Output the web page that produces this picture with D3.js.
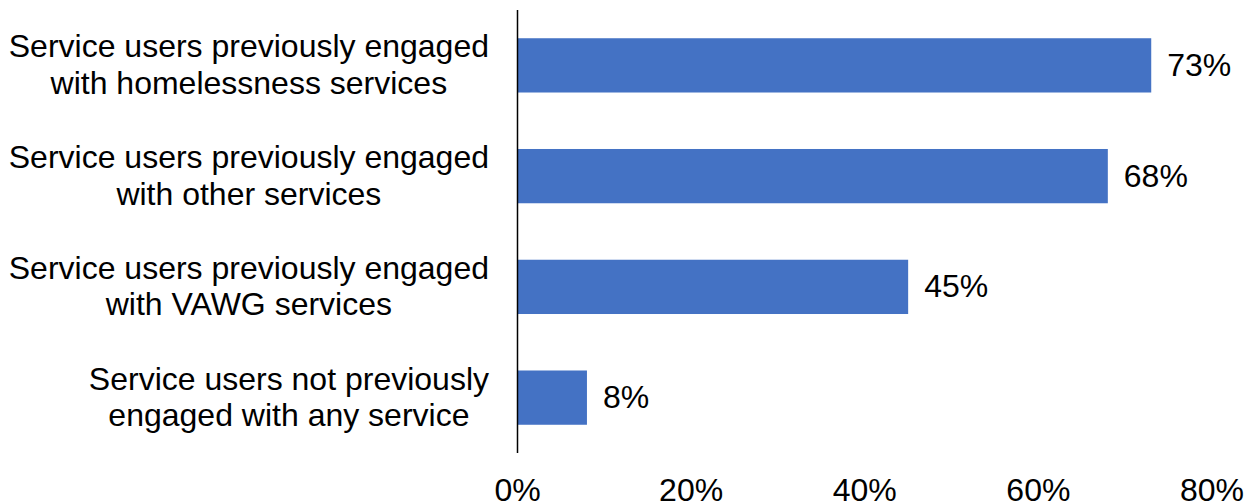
<!DOCTYPE html>
<html>
<head>
<meta charset="utf-8">
<script src="https://cdn.jsdelivr.net/npm/d3@7"></script>
<style>
  body { margin: 0; background: #fff; }
  text { font-family: "Liberation Sans", Arial, sans-serif; fill: #000; }
</style>
</head>
<body>
<svg id="chart" width="1255" height="504"></svg>
<script>
// Data
const categories = [
  ["Service users previously engaged", "with homelessness services"],
  ["Service users previously engaged", "with other services"],
  ["Service users previously engaged", "with VAWG services"],
  ["Service users not previously", "engaged with any service"]
];
const values = [73, 68, 45, 8];
const xTicks = [0, 20, 40, 60, 80];

const width = 1255, height = 504;
const plotTop = 10, plotBottom = 453;
const plotLeft = 517.5, plotRight = 1212;
const fontSize = 32;

const svg = d3.select("#chart");

const keys = categories.map((d, i) => i);

const xScale = d3.scaleLinear()
                 .domain([0, 80])
                 .range([plotLeft, plotRight]);

const yScale = d3.scaleBand()
                 .domain(keys)
                 .range([plotTop, plotBottom])
                 .paddingInner(0.51)
                 .paddingOuter(0.255);

// Bars
svg.append("g")
   .selectAll("rect")
   .data(values)
   .join("rect")
   .attr("x", xScale(0))
   .attr("y", (d, i) => yScale(i))
   .attr("width", d => xScale(d) - xScale(0))
   .attr("height", yScale.bandwidth())
   .attr("fill", "#4472C4");

// Value labels
svg.append("g")
   .selectAll("text")
   .data(values)
   .join("text")
   .attr("x", d => xScale(d) + 16)
   .attr("y", (d, i) => yScale(i) + yScale.bandwidth() / 2 + 10.5)
   .style("font-size", fontSize + "px")
   .text(d => d + "%");

// Vertical axis line
svg.append("line")
   .attr("x1", xScale(0))
   .attr("x2", xScale(0))
   .attr("y1", plotTop)
   .attr("y2", plotBottom)
   .attr("stroke", "#000")
   .attr("stroke-width", 1.5);

// Category labels: lines centred in a block right-aligned near the axis
const labelRight = 489;
const catGroups = svg.append("g")
   .selectAll("g")
   .data(categories)
   .join("g");

catGroups.each(function(lines, i) {
  const g = d3.select(this);
  const cy = yScale(i) + yScale.bandwidth() / 2;
  const texts = g.selectAll("text")
    .data(lines)
    .join("text")
    .attr("text-anchor", "middle")
    .attr("y", (d, j) => cy - 8 + j * 36.5)
    .style("font-size", fontSize + "px")
    .text(d => d);
  let maxW = 0;
  texts.each(function() { maxW = Math.max(maxW, this.getComputedTextLength()); });
  texts.attr("x", labelRight - maxW / 2);
});

// X tick labels
svg.append("g")
   .selectAll("text")
   .data(xTicks)
   .join("text")
   .attr("x", d => xScale(d))
   .attr("y", 501)
   .attr("text-anchor", "middle")
   .style("font-size", fontSize + "px")
   .text(d => d + "%");
</script>
</body>
</html>
